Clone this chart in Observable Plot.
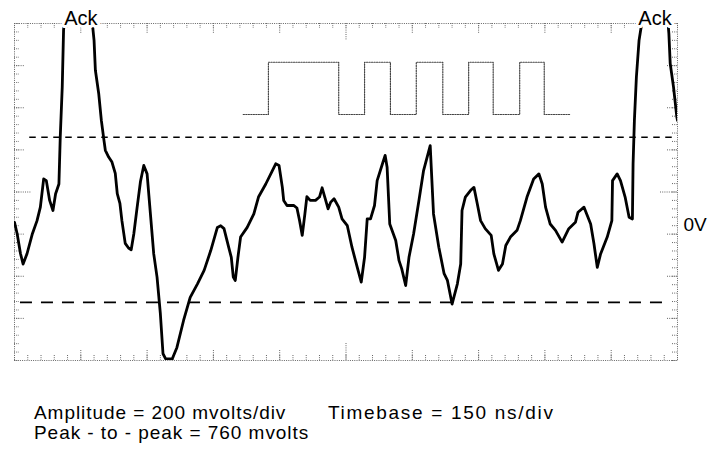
<!DOCTYPE html>
<html>
<head>
<meta charset="utf-8">
<script src="https://cdn.jsdelivr.net/npm/d3@7"></script>
<script src="https://cdn.jsdelivr.net/npm/@observablehq/plot@0.6"></script>
<style>
  html, body { margin: 0; padding: 0; background: #fff; }
  #wrap { position: relative; width: 708px; height: 451px; overflow: hidden; font-family: "Liberation Sans", Arial, sans-serif; }
  .cap { position: absolute; font-size: 19px; line-height: 19px; letter-spacing: 0.95px; color: #000; white-space: nowrap; }
</style>
</head>
<body>
<div id="wrap"></div>
<script>
// ---- Data (units: scope divisions; x = time div, y = amplitude div from screen centre) ----
const traceT = [0,0.04,0.09,0.13,0.19,0.27,0.34,0.39,0.44,0.48,0.53,0.58,0.62,0.67,0.69,0.72,0.74,0.78,0.95,1.15,
  1.17,1.20,1.22,1.27,1.31,1.35,1.37,1.42,1.47,1.52,1.55,1.59,1.62,1.67,1.72,1.76,1.80,1.85,1.90,1.95,
  2.00,2.05,2.10,2.15,2.20,2.24,2.28,2.38,2.45,2.55,2.65,2.76,2.86,2.96,3.06,3.11,3.16,3.23,3.27,3.30,
  3.33,3.37,3.41,3.51,3.61,3.68,3.79,3.89,3.94,3.99,4.04,4.06,4.11,4.21,4.26,4.30,4.34,4.38,4.41,4.46,
  4.54,4.60,4.64,4.68,4.73,4.77,4.82,4.89,4.94,5.02,5.09,5.17,5.23,5.28,5.32,5.37,5.43,5.47,5.55,5.59,
  5.62,5.66,5.75,5.80,5.84,5.90,5.95,6.02,6.10,6.17,6.27,6.32,6.40,6.48,6.53,6.60,6.68,6.73,6.75,6.80,
  6.88,6.93,6.98,7.03,7.10,7.19,7.23,7.30,7.36,7.41,7.48,7.58,7.63,7.73,7.83,7.91,7.96,8.01,8.08,8.16,
  8.26,8.36,8.46,8.50,8.59,8.69,8.74,8.79,8.84,8.94,9.01,9.02,9.09,9.14,9.21,9.27,9.32,9.33,9.35,9.38,
  9.42,9.44,9.52,9.67,9.83,9.87,9.89,9.94,9.99,10.0];
const traceV = [-0.72,-0.99,-1.46,-1.71,-1.46,-0.99,-0.68,-0.36,0.31,0.27,-0.20,-0.44,-0.04,0.19,1.30,2.49,3.84,4.55,5.0,4.55,
  4.07,3.60,2.89,2.34,1.70,1.22,0.99,0.83,0.71,0.44,-0.04,-0.27,-0.68,-1.22,-1.33,-1.37,-0.99,-0.36,0.25,0.63,
  0.43,-0.52,-1.47,-2.02,-2.89,-3.84,-3.96,-3.96,-3.69,-3.05,-2.50,-2.18,-1.86,-1.39,-0.84,-0.80,-0.87,-1.31,-1.55,-2.02,
  -2.10,-1.55,-1.07,-0.84,-0.52,-0.12,0.19,0.51,0.67,0.63,0.11,-0.20,-0.32,-0.32,-0.38,-0.68,-1.03,-0.52,-0.11,-0.20,
  -0.20,-0.12,0.10,-0.12,-0.40,-0.24,-0.16,-0.36,-0.64,-0.80,-1.31,-1.79,-2.14,-1.55,-0.64,-0.64,-0.32,0.27,0.67,0.87,
  0.59,-0.76,-1.15,-1.63,-1.82,-2.22,-1.55,-0.99,-0.20,0.51,1.10,-0.52,-1.31,-1.94,-2.10,-2.66,-2.18,-1.71,-0.44,-0.12,
  0.04,0.11,-0.28,-0.68,-0.87,-1.03,-1.47,-1.86,-1.71,-1.27,-1.07,-0.91,-0.68,-0.12,0.31,0.43,0.19,-0.36,-0.76,-0.91,
  -1.19,-0.87,-0.72,-0.48,-0.36,-0.76,-1.23,-1.79,-1.47,-1.07,-0.68,0.27,0.43,0.27,-0.12,-0.60,-0.64,0.67,1.70,2.73,
  3.60,3.80,4.55,5.0,4.55,3.76,3.05,2.49,1.78,1.70];

const pulseT = [3.45,3.83,4.89,5.28,5.67,6.06,6.46,6.85,7.22,7.62,7.99,8.39];
const pulseBits = [0,1,0,1,0,1,0,1,0,1,0,0];
const pulseLow = 1.84, pulseHigh = 3.08;

const thresholdLevels = [1.30, -2.62];
const thresholdFrom = [0.23, 0.09];
const thresholdTo = [9.94, 9.86];

const ackLabels = ["Ack", "Ack"];
const ackT = [1.0, 9.66];
const ackV = 4.11;
const zeroLevel = -0.77;

const captions = ["Amplitude = 200 mvolts/div", "Peak - to - peak = 760 mvolts", "Timebase = 150 ns/div"];

// graticule ticks (every 1/5 division)
const xMinor = d3.range(0, 51).map(i => i / 5);
const xMajor = d3.range(1, 10).filter(i => i !== 5);
const yMinor = d3.range(0, 41).map(i => -4 + i / 5);
const yMajor = d3.range(-3, 4).filter(i => i !== 0);

// ---- Build ----
const W = 708, H = 370, mT = 23, mB = 10, mL = 14, mR = 31;
const innerW = W - mL - mR, innerH = H - mT - mB;
const trace = traceT.map((t, i) => ({t, v: traceV[i]}));
const pulse = pulseT.map((t, i) => ({t, v: pulseBits[i] ? pulseHigh : pulseLow}));
const thr = thresholdLevels.map((v, i) => ({v, x1: thresholdFrom[i], x2: thresholdTo[i]}));
const acks = ackLabels.map((l, i) => ({l, t: ackT[i], v: ackV}));
const grid = {stroke: "#666", strokeWidth: 1, strokeDasharray: "1,1.2"};

const chart = Plot.plot({
  width: W, height: H,
  marginTop: mT, marginBottom: mB, marginLeft: mL, marginRight: mR,
  x: {domain: [0, 10], axis: null},
  y: {domain: [-4, 4], axis: null},
  style: {background: "white", overflow: "visible", fontFamily: "Liberation Sans, Arial, sans-serif"},
  marks: [
    Plot.frame({...grid}),
    // top & bottom ticks
    Plot.tickX(xMinor, {x: d => d, insetBottom: innerH - 5, ...grid}),
    Plot.tickX(xMinor, {x: d => d, insetTop: innerH - 5, ...grid}),
    Plot.tickX(xMajor, {x: d => d, insetBottom: innerH - 10, ...grid}),
    Plot.tickX(xMajor, {x: d => d, insetTop: innerH - 10, ...grid}),
    Plot.tickX([5], {x: d => d, insetBottom: innerH - 17, ...grid}),
    Plot.tickX([5], {x: d => d, insetTop: innerH - 17, ...grid}),
    // left & right ticks
    Plot.tickY(yMinor, {y: d => d, insetRight: innerW - 5, ...grid}),
    Plot.tickY(yMinor, {y: d => d, insetLeft: innerW - 5, ...grid}),
    Plot.tickY(yMajor, {y: d => d, insetRight: innerW - 10, ...grid}),
    Plot.tickY(yMajor, {y: d => d, insetLeft: innerW - 10, ...grid}),
    Plot.tickY([0], {y: d => d, insetRight: innerW - 17, ...grid}),
    Plot.tickY([0], {y: d => d, insetLeft: innerW - 17, ...grid}),
    // pulse train
    Plot.line(pulse, {x: "t", y: "v", curve: "step-after", stroke: "#444", strokeWidth: 1.2, strokeDasharray: "1.2,1.3"}),
    // threshold lines
    Plot.ruleY([thr[0]], {y: "v", x1: "x1", x2: "x2", stroke: "#000", strokeWidth: 1.6, strokeDasharray: "6.5,5.5"}),
    Plot.ruleY([thr[1]], {y: "v", x1: "x1", x2: "x2", stroke: "#000", strokeWidth: 1.6, strokeDasharray: "12,9"}),
    // trace
    Plot.line(trace, {x: "t", y: "v", stroke: "#000", strokeWidth: 2.8, strokeLinejoin: "round", strokeLinecap: "round", clip: true}),
    // labels
    Plot.text(acks, {x: "t", y: "v", text: "l", fontSize: 20, fill: "#000", stroke: "white", strokeWidth: 6}),
    Plot.text([zeroLevel], {x: () => 10, y: d => d, text: () => "0V", textAnchor: "start", dx: 6, fontSize: 19, fill: "#000"})
  ]
});

const wrap = document.getElementById("wrap");
wrap.appendChild(chart);
const pos = [[34, 403, 0.95], [34, 423, 0.95], [328, 403, 1.7]];
captions.forEach((c, i) => {
  const d = document.createElement("div");
  d.className = "cap";
  d.textContent = c;
  d.style.left = pos[i][0] + "px";
  d.style.top = pos[i][1] + "px";
  d.style.letterSpacing = pos[i][2] + "px";
  wrap.appendChild(d);
});
</script>
</body>
</html>
